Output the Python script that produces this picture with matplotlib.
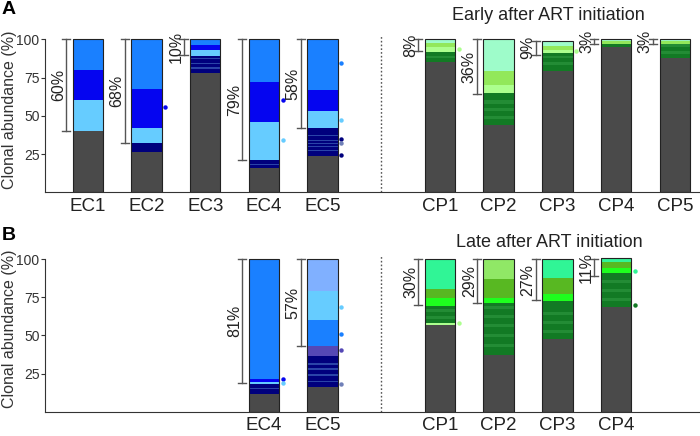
import numpy as np
import matplotlib
matplotlib.use("Agg")
import matplotlib.pyplot as plt

plt.rcParams['font.family'] = ['Liberation Sans', 'DejaVu Sans']

# colour per clone category
pal = {
    'base': '#4a4a4a',
    'big': '#1a80ff', 'mid': '#0505f0', 'light': '#66ccff',
    'small': '#00007d', 'small2': '#2a44a8', 'peri': '#80b0ff',
    'purple': '#5548b5', 'slate': '#7080b8',
    'mint': '#9efcca', 'lime': '#92e85a', 'pale': '#acff8e',
    'dg': '#127a24', 'dg2': '#238c35',
    'spring': '#30f596', 'olive': '#58b822', 'bright': '#1eff1e',
    'lgreen': '#90e866',
}

# ---- panel A : early after ART initiation ----
labels_a = ['EC1', 'EC2', 'EC3', 'EC4', 'EC5', 'CP1', 'CP2', 'CP3', 'CP4', 'CP5']
slots_a = [0, 1, 2, 3, 4, 6, 7, 8, 9, 10]

# segments from bottom to top: (size, category)
seg_a = [
    [(40, 'base'), (20, 'light'), (20, 'mid'), (20, 'big')],
    [(26, 'base'), (6, 'small'), (10, 'light'), (25.5, 'mid'), (32.5, 'big')],
    [(78.2, 'base'), (2.6, 'small'), (0.8, 'small2'), (2.4, 'small'), (0.8, 'small2'),
     (2.4, 'small'), (0.8, 'small2'), (1.2, 'small'), (3.8, 'light'), (3.2, 'mid'), (3.8, 'big')],
    [(16, 'base'), (1.8, 'small'), (0.7, 'small2'), (2.5, 'small'), (25, 'light'), (26, 'mid'), (28, 'big')],
    [(24, 'base'), (3.2, 'small'), (0.6, 'small2'), (1.6, 'small'), (0.6, 'small2'), (1.6, 'small'),
     (0.6, 'small2'), (1.5, 'small'), (0.6, 'small2'), (2.5, 'small'), (0.6, 'small2'), (4.6, 'small'),
     (11, 'light'), (14, 'mid'), (33, 'big')],
    [(85, 'base'), (2.5, 'dg'), (1.8, 'dg2'), (2.5, 'dg'), (2.9, 'pale'), (2.6, 'lime'), (2.7, 'mint')],
    [(44, 'base'), (4, 'dg'), (2, 'dg2'), (3, 'dg'), (2, 'dg2'), (3, 'dg'), (2, 'dg2'), (5, 'dg'),
     (5, 'pale'), (9, 'lime'), (21, 'mint')],
    [(79, 'base'), (4, 'dg'), (2, 'dg2'), (3, 'dg'), (1, 'dg2'), (2, 'dg'), (2.2, 'pale'), (2.6, 'lime'), (3.2, 'mint')],
    [(95, 'base'), (1.8, 'dg'), (2, 'lime'), (1.2, 'mint')],
    [(87.5, 'base'), (3, 'dg'), (1.5, 'dg2'), (3, 'dg'), (2, 'dg2'), (2, 'lime'), (1, 'mint')],
]
brk_a = [(40, 100, '60%'), (32, 100, '68%'), (90, 100, '10%'), (21, 100, '79%'), (42, 100, '58%'),
         (92, 100, '8%'), (64, 100, '36%'), (90, 99, '9%'), (97, 100, '3%'), (97, 100, '3%')]
dots_a = [[], [(56, 'mid')], [], [(60, 'mid'), (34, 'light')],
          [(84.3, 'big'), (47.3, 'light'), (34.7, 'small'), (32.1, 'slate'), (24.5, 'small')],
          [(93.4, 'pale')], [], [(92, 'pale')], [], []]

# ---- panel B : late after ART initiation ----
labels_b = ['EC4', 'EC5', 'CP1', 'CP2', 'CP3', 'CP4']
slots_b = [3, 4, 6, 7, 8, 9]
seg_b = [
    [(11.6, 'base'), (3, 'small'), (1, 'small2'), (2.6, 'small'), (1.3, 'light'), (1.8, 'mid'), (78.7, 'big')],
    [(16.4, 'base'), (3, 'small'), (1, 'small2'), (3, 'small'), (1, 'small2'), (3, 'small'), (1, 'small2'),
     (2.5, 'small'), (1, 'small2'), (4.9, 'small'), (6.3, 'purple'), (17.1, 'big'), (19, 'light'), (20.8, 'peri')],
    [(57, 'base'), (1, 'pale'), (3, 'dg'), (1.5, 'dg2'), (3, 'dg'), (1.5, 'dg2'), (2.6, 'dg'),
     (4.6, 'bright'), (6.3, 'olive'), (19.5, 'spring')],
    [(37.2, 'base'), (5, 'dg'), (2, 'dg2'), (5, 'dg'), (2, 'dg2'), (4, 'dg'), (2, 'dg2'), (4, 'dg'),
     (2, 'dg2'), (4, 'dg'), (1.9, 'dg2'), (2, 'dg'), (3.7, 'bright'), (12.1, 'olive'), (13.1, 'lgreen')],
    [(47.5, 'base'), (4, 'dg'), (2, 'dg2'), (4, 'dg'), (2, 'dg2'), (4, 'dg'), (2, 'dg2'), (7.1, 'dg'),
     (4.6, 'bright'), (10.3, 'olive'), (12.5, 'spring')],
    [(68.5, 'base'), (4, 'dg'), (2, 'dg2'), (4, 'dg'), (2, 'dg2'), (4, 'dg'), (2, 'dg2'), (4.3, 'dg'),
     (3.7, 'bright'), (3.3, 'olive'), (3.2, 'spring')],
]
brk_b = [(19, 100, '81%'), (43, 100, '57%'), (70, 100, '30%'), (71, 100, '29%'), (73, 100, '27%'), (89, 100, '11%')]
dots_b = [[(21.7, 'mid'), (18.6, 'light')],
          [(68.9, 'light'), (51, 'big'), (40.5, 'purple'), (18.2, 'slate')],
          [(58, 'pale')], [], [], [(92.5, 'spring'), (70, 'dg')]]

W = 0.52


def draw(ax, slots, labels, segs, brks, dots):
    for x, sg, bk, dt in zip(slots, segs, brks, dots):
        b = 0
        for h, c in sg:
            ax.bar(x, h, bottom=b, width=W, color=pal[c], linewidth=0)
            b += h
        ax.bar(x, b, width=W, fill=False, edgecolor='#222222', linewidth=0.8)
        lo, hi, t = bk
        bx = x - 0.37
        ax.plot([bx, bx], [lo, hi], color='#555555', lw=1)
        for yy in (lo, hi):
            ax.plot([bx - 0.07, bx + 0.07], [yy, yy], color='#555555', lw=1)
        ax.text(bx - 0.13, (lo + hi) / 2, t, rotation=90, ha='center', va='center',
                fontsize=11.5, color='#222222')
        for v, c in dt:
            ax.plot(x + 0.32, v, 'o', ms=3.2, color=pal[c], mec='none')
    ax.axvline(5, color='#555555', lw=1, ls=(0, (1.2, 1.5)))
    ax.set_xlim(-0.73, 10.43)
    ax.set_ylim(0, 102)
    ax.set_xticks(slots)
    ax.set_xticklabels(labels, fontsize=13.5, color='#222222')
    ax.tick_params(axis='x', length=0, pad=4)
    ax.set_yticks([25, 50, 75, 100])
    ax.tick_params(axis='y', labelsize=10, length=3, width=0.8, pad=1, colors='#333333')
    ax.spines['top'].set_visible(False)
    ax.spines['right'].set_visible(False)
    ax.spines['left'].set_bounds(0, 100)
    ax.spines['left'].set_color('#333333')
    ax.spines['bottom'].set_color('#333333')
    ax.set_ylabel('Clonal abundance (%)', fontsize=11.5, color='#333333')
    ax.yaxis.set_label_coords(-0.043, 0.53)


fig = plt.figure(figsize=(7, 4.36), dpi=100)
ax1 = fig.add_axes([45 / 700, 0.559, 655 / 700, 0.358])
ax2 = fig.add_axes([45 / 700, 0.0557, 655 / 700, 0.357])
draw(ax1, slots_a, labels_a, seg_a, brk_a, dots_a)
draw(ax2, slots_b, labels_b, seg_b, brk_b, dots_b)

fig.text(548 / 700, 1 - 15 / 436, 'Early after ART initiation', ha='center', va='center', fontsize=13, color='#222222')
fig.text(549 / 700, 1 - 242 / 436, 'Late after ART initiation', ha='center', va='center', fontsize=13, color='#222222')
fig.text(2 / 700, 1 - 1 / 436, 'A', ha='left', va='top', fontsize=14, fontweight='bold')
fig.text(2 / 700, 1 - 227 / 436, 'B', ha='left', va='top', fontsize=14, fontweight='bold')

fig.savefig('out.png', dpi=100)
